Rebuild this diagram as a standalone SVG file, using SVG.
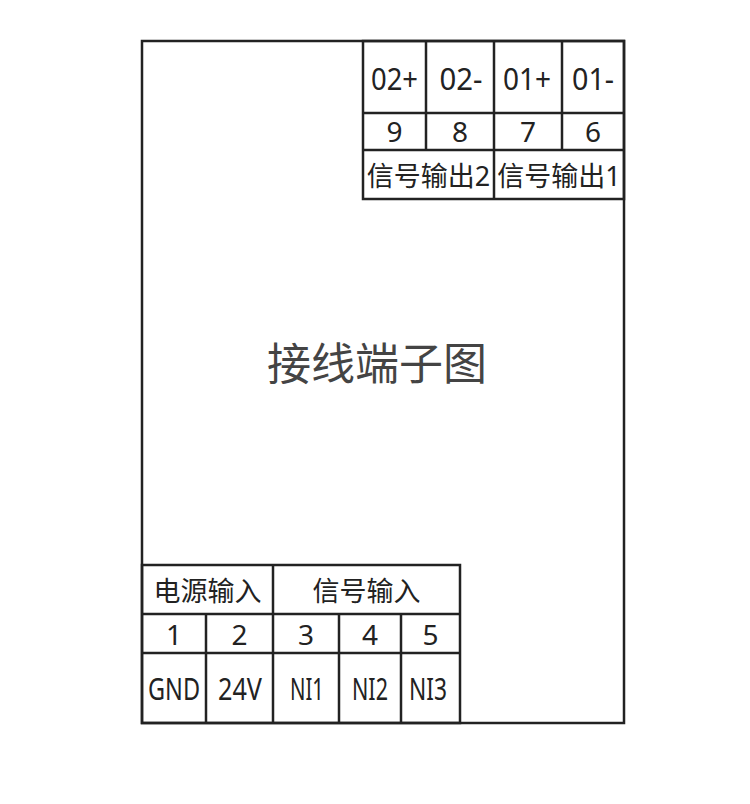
<svg xmlns="http://www.w3.org/2000/svg" width="750" height="804" viewBox="0 0 750 804">
<style>
.ln{stroke:#222;stroke-width:2.5;fill:none}
.t{font-family:"Noto Sans","Noto Sans CJK SC",sans-serif;font-size:27px;fill:#222;text-anchor:middle;dominant-baseline:central}
.n{font-size:28px}
.c{font-size:30px}
.title{font-family:"Noto Sans CJK SC","Noto Sans",sans-serif;font-size:44px;fill:#444;text-anchor:middle;dominant-baseline:central}
</style>
<rect width="750" height="804" fill="#fff"/>
<g id="frame">
<rect class="ln" x="142" y="41" width="482" height="682"/>
</g>
<g id="title"><text class="title" x="377" y="361">接线端子图</text></g>
<g id="output-terminals">
<rect class="ln" x="363" y="41" width="261" height="158"/>
<line class="ln" x1="363" y1="113" x2="624" y2="113"/>
<line class="ln" x1="363" y1="150" x2="624" y2="150"/>
<line class="ln" x1="426" y1="41" x2="426" y2="150"/>
<line class="ln" x1="494" y1="41" x2="494" y2="199"/>
<line class="ln" x1="562" y1="41" x2="562" y2="150"/>
<text class="t c" x="394.5" y="78" textLength="47" lengthAdjust="spacingAndGlyphs">02+</text>
<text class="t c" x="461" y="78" textLength="43" lengthAdjust="spacingAndGlyphs">02-</text>
<text class="t c" x="527" y="78" textLength="48" lengthAdjust="spacingAndGlyphs">01+</text>
<text class="t c" x="593" y="78" textLength="42" lengthAdjust="spacingAndGlyphs">01-</text>
<text class="t n" x="394.5" y="131">9</text>
<text class="t n" x="460" y="131">8</text>
<text class="t n" x="528" y="131">7</text>
<text class="t n" x="593" y="131">6</text>
<text class="t" x="428.5" y="175">信号输出2</text>
<text class="t" x="559" y="175">信号输出1</text>
</g>
<g id="input-terminals">
<rect class="ln" x="142" y="565" width="318" height="158"/>
<line class="ln" x1="142" y1="614" x2="460" y2="614"/>
<line class="ln" x1="142" y1="653" x2="460" y2="653"/>
<line class="ln" x1="206" y1="614" x2="206" y2="723"/>
<line class="ln" x1="273" y1="565" x2="273" y2="723"/>
<line class="ln" x1="339" y1="614" x2="339" y2="723"/>
<line class="ln" x1="401" y1="614" x2="401" y2="723"/>
<text class="t" x="207.5" y="590">电源输入</text>
<text class="t" x="366.5" y="590">信号输入</text>
<text class="t n" x="174" y="634">1</text>
<text class="t n" x="239.5" y="634">2</text>
<text class="t n" x="306" y="634">3</text>
<text class="t n" x="370" y="634">4</text>
<text class="t n" x="430.5" y="634">5</text>
<text class="t c" x="174" y="688" textLength="52" lengthAdjust="spacingAndGlyphs">GND</text>
<text class="t c" x="240" y="688" textLength="44" lengthAdjust="spacingAndGlyphs">24V</text>
<text class="t c" x="307" y="688" textLength="34" lengthAdjust="spacingAndGlyphs">NI1</text>
<text class="t c" x="370" y="688" textLength="36" lengthAdjust="spacingAndGlyphs">NI2</text>
<text class="t c" x="428" y="688" textLength="38" lengthAdjust="spacingAndGlyphs">NI3</text>
</g>
</svg>
